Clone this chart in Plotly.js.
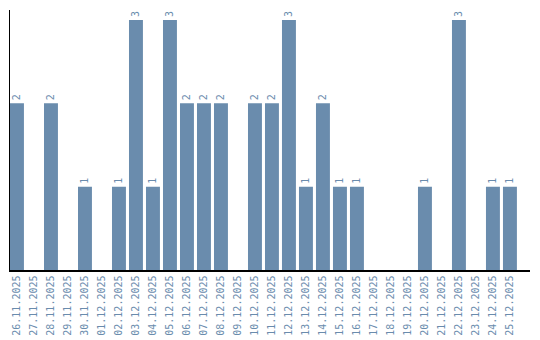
<!DOCTYPE html>
<html>
<head>
<meta charset="utf-8">
<script src="https://cdn.plot.ly/plotly-3.0.1.min.js"></script>
<style>html,body{margin:0;padding:0;background:#fff;}#chart{width:540px;height:340px;}</style>
</head>
<body>
<div id="chart"></div>
<script>
var categories = ["26.11.2025","27.11.2025","28.11.2025","29.11.2025","30.11.2025","01.12.2025","02.12.2025","03.12.2025","04.12.2025","05.12.2025","06.12.2025","07.12.2025","08.12.2025","09.12.2025","10.12.2025","11.12.2025","12.12.2025","13.12.2025","14.12.2025","15.12.2025","16.12.2025","17.12.2025","18.12.2025","19.12.2025","20.12.2025","21.12.2025","22.12.2025","23.12.2025","24.12.2025","25.12.2025"];
var values = [2,0,2,0,1,0,1,3,1,3,2,2,2,0,2,2,3,1,2,1,1,0,0,0,1,0,3,0,1,1];
var labels = values.map(function(v){ return v > 0 ? String(v) : ""; });
var barColor = "#6a8cad";
var textColor = "#6a8cad";
var trace = {
  type: "bar",
  x: categories,
  y: values,
  text: labels,
  textposition: "outside",
  textangle: -90,
  cliponaxis: false,
  textfont: {family: "DejaVu Sans Mono, monospace", size: 10, color: textColor},
  marker: {color: barColor},
  hoverinfo: "none"
};
var layout = {
  width: 540, height: 340,
  margin: {l: 10, r: 10, t: 10, b: 70, pad: 0},
  paper_bgcolor: "#fff", plot_bgcolor: "#fff",
  bargap: 0.18,
  showlegend: false,
  xaxis: {
    type: "category",
    range: [-0.41, 30.18],
    showline: true, linecolor: "#000", linewidth: 1.5,
    showgrid: false, zeroline: false, ticks: "",
    tickangle: -90,
    tickfont: {family: "DejaVu Sans Mono, monospace", size: 10, color: textColor},
    fixedrange: true
  },
  yaxis: {
    range: [0, 3.12],
    showline: true, linecolor: "#000", linewidth: 1.5,
    showgrid: false, zeroline: false, ticks: "", showticklabels: false,
    fixedrange: true
  }
};
Plotly.newPlot("chart", [trace], layout, {displayModeBar: false, staticPlot: true});
</script>
</body>
</html>
